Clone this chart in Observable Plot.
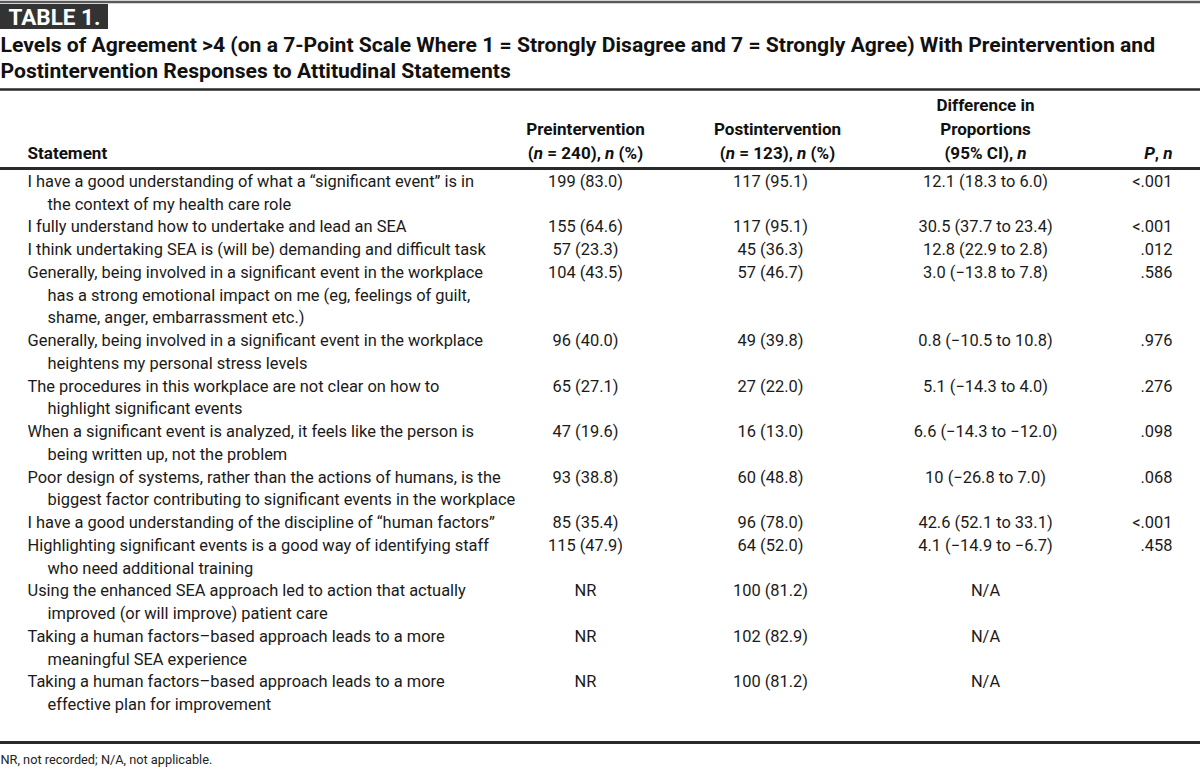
<!DOCTYPE html>
<html><head><meta charset="utf-8">
<script src="https://cdn.jsdelivr.net/npm/d3@7"></script>
<script src="https://cdn.jsdelivr.net/npm/@observablehq/plot@0.6"></script>
<style>
html,body{margin:0;padding:0;background:#fff;}
#chart svg{display:block;}
</style></head><body><div id="chart"></div>
<script>
// ---------- data ----------
const tableLabel = "TABLE 1.";
const titleLines = [
  "Levels of Agreement >4 (on a 7-Point Scale Where 1 = Strongly Disagree and 7 = Strongly Agree) With Preintervention and",
  "Postintervention Responses to Attitudinal Statements"
];
const headerStatement = ["Statement"];
const headerPre = ["Preintervention", "(n = 240), n (%)"];
const headerPost = ["Postintervention", "(n = 123), n (%)"];
const headerDiff = ["Difference in", "Proportions", "(95% CI), n"];
const headerP = ["P, n"];
const statements = [
  ["I have a good understanding of what a “significant event” is in", "the context of my health care role"],
  ["I fully understand how to undertake and lead an SEA"],
  ["I think undertaking SEA is (will be) demanding and difficult task"],
  ["Generally, being involved in a significant event in the workplace", "has a strong emotional impact on me (eg, feelings of guilt,", "shame, anger, embarrassment etc.)"],
  ["Generally, being involved in a significant event in the workplace", "heightens my personal stress levels"],
  ["The procedures in this workplace are not clear on how to", "highlight significant events"],
  ["When a significant event is analyzed, it feels like the person is", "being written up, not the problem"],
  ["Poor design of systems, rather than the actions of humans, is the", "biggest factor contributing to significant events in the workplace"],
  ["I have a good understanding of the discipline of “human factors”"],
  ["Highlighting significant events is a good way of identifying staff", "who need additional training"],
  ["Using the enhanced SEA approach led to action that actually", "improved (or will improve) patient care"],
  ["Taking a human factors–based approach leads to a more", "meaningful SEA experience"],
  ["Taking a human factors–based approach leads to a more", "effective plan for improvement"]
];
const preValues = ["199 (83.0)", "155 (64.6)", "57 (23.3)", "104 (43.5)", "96 (40.0)", "65 (27.1)", "47 (19.6)", "93 (38.8)", "85 (35.4)", "115 (47.9)", "NR", "NR", "NR"];
const postValues = ["117 (95.1)", "117 (95.1)", "45 (36.3)", "57 (46.7)", "49 (39.8)", "27 (22.0)", "16 (13.0)", "60 (48.8)", "96 (78.0)", "64 (52.0)", "100 (81.2)", "102 (82.9)", "100 (81.2)"];
const diffValues = ["12.1 (18.3 to 6.0)", "30.5 (37.7 to 23.4)", "12.8 (22.9 to 2.8)", "3.0 (−13.8 to 7.8)", "0.8 (−10.5 to 10.8)", "5.1 (−14.3 to 4.0)", "6.6 (−14.3 to −12.0)", "10 (−26.8 to 7.0)", "42.6 (52.1 to 33.1)", "4.1 (−14.9 to −6.7)", "N/A", "N/A", "N/A"];
const pValues = ["<.001", "<.001", ".012", ".586", ".976", ".276", ".098", ".068", "<.001", ".458", "", "", ""];
const footnote = "NR, not recorded; N/A, not applicable.";

// ---------- layout ----------
const W = 1200, H = 767;
const FAMILY = "Roboto";
const FONT = 'Roboto,"DejaVu Sans Condensed",sans-serif';
const ctx = document.createElement("canvas").getContext("2d");
function fit(text, weight, target) {
  ctx.font = `${weight} 100px ${FAMILY}`;
  return 100 * target / ctx.measureText(text).width;
}
const bodySize = fit(statements[3][0], "normal", 456);
const headSize = fit(headerPre[1], "bold", 116);
const titleSize = fit(titleLines[0], "bold", 1155);
const labelSize = fit(tableLabel, "bold", 92);
const noteSize = fit(footnote, "normal", 212);

const pitch = 22.75, firstY = 181;
const col = {stmt: 27, indent: 47, pre: 585, postHead: 777, post: 770, diff: 985, p: 1172};

const bodyLines = [], midCells = [], endCells = [];
let li = 0;
statements.forEach((lines, i) => {
  const y0 = firstY + li * pitch;
  lines.forEach((t, j) => bodyLines.push({x: j ? col.indent : col.stmt, y: y0 + j * pitch, text: t}));
  midCells.push({x: col.pre, y: y0, text: preValues[i]});
  midCells.push({x: col.post, y: y0, text: postValues[i]});
  midCells.push({x: col.diff, y: y0, text: diffValues[i]});
  endCells.push({x: col.p, y: y0, text: pValues[i]});
  li += lines.length;
});

const headBottom = 153, headPitch = 24;
const headStart = [], headMid = [], headEnd = [];
function addHead(target, lines, x) {
  lines.forEach((t, j) => target.push({x, y: headBottom - (lines.length - 1 - j) * headPitch, text: t}));
}
addHead(headStart, headerStatement, col.stmt);
addHead(headMid, headerPre, col.pre);
addHead(headMid, headerPost, col.postHead);
addHead(headMid, headerDiff, col.diff);
addHead(headEnd, headerP, col.p);

const titleRows = titleLines.map((t, i) => ({x: 0, y: 45 + i * 26, text: t}));
const rules = [
  {y: 1.5, w: 2.5, c: "#5a5a5a"},
  {y: 89, w: 2.5, c: "#2a2a2a"},
  {y: 168, w: 3, c: "#2a2a2a"},
  {y: 742, w: 3, c: "#2a2a2a"}
];

const txt = (data, anchor, o = {}) => Plot.text(data, {x: "x", y: "y", text: "text", textAnchor: anchor, ...o});

const plot = Plot.plot({
  width: W, height: H,
  margin: 0,
  x: {domain: [0, W], range: [0, W], axis: null},
  y: {domain: [0, H], range: [0, H], axis: null},
  style: {fontFamily: FONT, background: "#fff", color: "#1a1a1a"},
  marks: [
    Plot.ruleY(rules, {y: "y", x1: 0, x2: W, stroke: "c", strokeWidth: "w"}),
    Plot.rect([{x1: 0, x2: 108, y1: 4, y2: 29}], {x1: "x1", x2: "x2", y1: "y1", y2: "y2", fill: "#333"}),
    txt([{x: 8, y: 17, text: tableLabel}], "start", {fill: "#fff", fontWeight: "bold", fontSize: labelSize}),
    txt(titleRows, "start", {fontWeight: "bold", fontSize: titleSize, fill: "#111"}),
    txt(headStart, "start", {fontWeight: "bold", fontSize: headSize, fill: "#111"}),
    txt(headMid, "middle", {fontWeight: "bold", fontSize: headSize, fill: "#111"}),
    txt(headEnd, "end", {fontWeight: "bold", fontSize: headSize, fill: "#111"}),
    txt(bodyLines, "start", {fontSize: bodySize, fill: "#1a1a1a"}),
    txt(midCells, "middle", {fontSize: bodySize, fill: "#1a1a1a"}),
    txt(endCells, "end", {fontSize: bodySize, fill: "#1a1a1a"}),
    txt([{x: 0, y: 759, text: footnote}], "start", {fontSize: noteSize, fill: "#222"})
  ]
});
document.getElementById("chart").appendChild(plot);

// italicise the statistical symbols n and P in the column headers
const headerTexts = new Set([...headerPre, ...headerPost, ...headerDiff, ...headerP]);
plot.querySelectorAll("text").forEach(el => {
  const t = el.textContent;
  if (!headerTexts.has(t) || !/\b[nP]\b/.test(t)) return;
  const parts = t.split(/\b([nP])\b/);
  el.textContent = "";
  parts.forEach((p, k) => {
    if (!p) return;
    const ts = document.createElementNS("http://www.w3.org/2000/svg", "tspan");
    ts.textContent = p;
    if (k % 2 === 1) ts.setAttribute("font-style", "italic");
    el.appendChild(ts);
  });
});
</script>
</body></html>
